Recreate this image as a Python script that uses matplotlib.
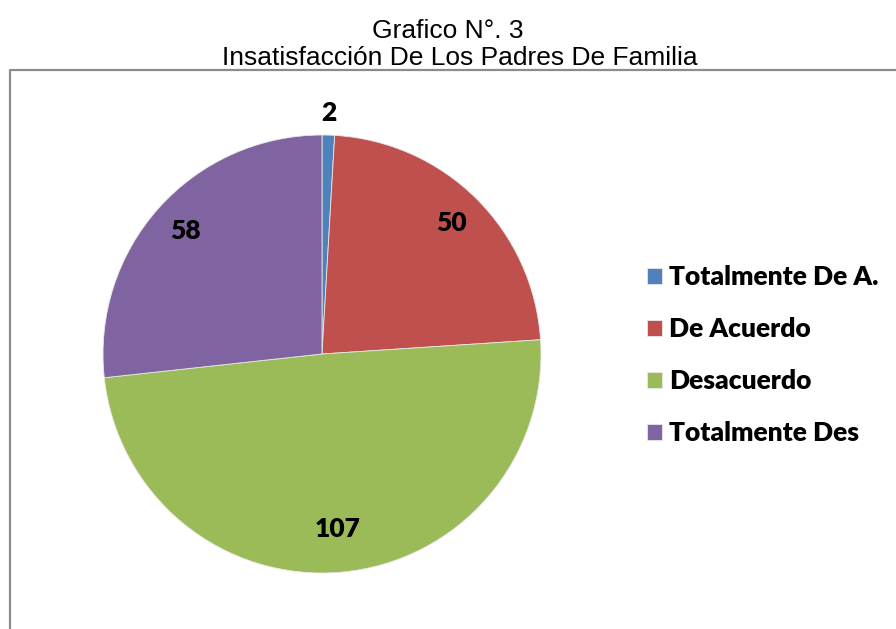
import numpy as np
import matplotlib.pyplot as plt
from matplotlib.lines import Line2D

categories = ['Totalmente De A.', 'De Acuerdo', 'Desacuerdo', 'Totalmente Des']
values = [2, 50, 107, 58]
colors = ['#4F81BD', '#C0504D', '#9BBB59', '#8064A2']
label_dist = [1.10, 0.84, 0.80, 0.84]

W, H = 896, 629
fig = plt.figure(figsize=(W / 100, H / 100), dpi=100)

# title
fig.text(448 / W, 1 - 31 / H, 'Grafico N°. 3', ha='center', va='center',
         fontsize=19, family='Liberation Sans')
fig.text(460 / W, 1 - 58 / H, 'Insatisfacción De Los Padres De Familia',
         ha='center', va='center', fontsize=19, family='Liberation Sans')

# frame (left and top edges only visible)
fig.add_artist(Line2D([10 / W, 10 / W, 1.0], [0.0, 1 - 70 / H, 1 - 70 / H],
                      transform=fig.transFigure, color='#8c8c8c', lw=1.6))

# pie
cx, cy, r = 322, H - 354, 219
ax = fig.add_axes([(cx - r) / W, (cy - r) / H, 2 * r / W, 2 * r / H])
wedges, _ = ax.pie(values, colors=colors, startangle=90, counterclock=False,
                   radius=1, wedgeprops=dict(edgecolor='#e8e8e8', linewidth=0.6))
ax.set_xlim(-1, 1)
ax.set_ylim(-1, 1)
ax.set_aspect('equal')
ax.axis('off')

for w, v, d in zip(wedges, values, label_dist):
    ang = np.deg2rad((w.theta1 + w.theta2) / 2)
    ax.text(d * np.cos(ang), d * np.sin(ang), str(v), ha='center', va='center',
            fontsize=19, fontweight='heavy', family='Lato', clip_on=False)

fig.legend(wedges, categories, loc='center left',
           bbox_to_anchor=(647 / W, 1 - 355 / H), frameon=False,
           prop=dict(family='Lato', weight='heavy', size=19),
           handlelength=0.55, handleheight=0.55, handletextpad=0.3,
           labelspacing=1.06, borderpad=0, borderaxespad=0)

fig.savefig('out.png', dpi=100)
